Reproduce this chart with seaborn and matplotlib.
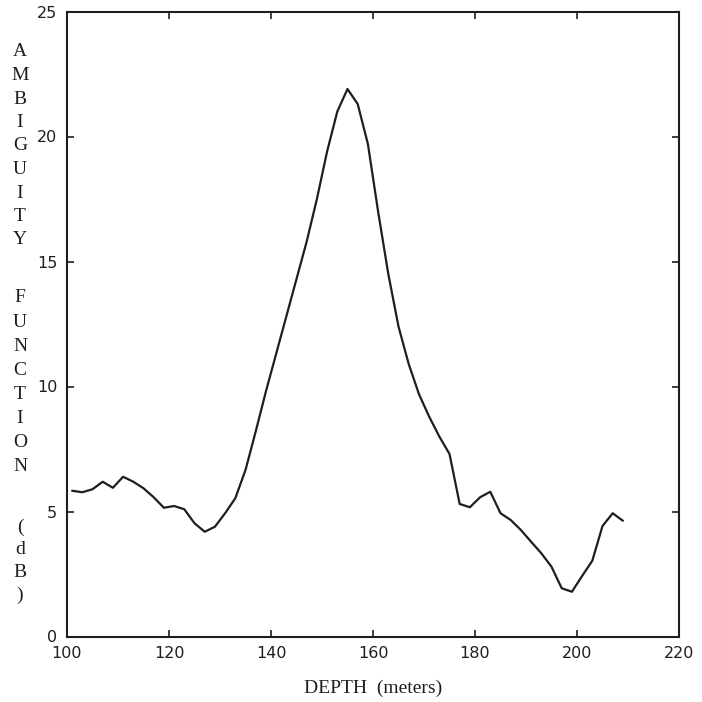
import matplotlib
matplotlib.use("Agg")
import matplotlib.pyplot as plt
import seaborn as sns
import pandas as pd

depth = list(range(101, 210, 2))
ambiguity_db = [
    5.83, 5.77, 5.89, 6.19, 5.95, 6.39, 6.19, 5.93, 5.57, 5.15,
    5.22, 5.09, 4.53, 4.19, 4.39, 4.93, 5.53, 6.66, 8.2, 9.8,
    11.3, 12.8, 14.3, 15.8, 17.5, 19.4, 21.0, 21.9, 21.3, 19.7,
    17.0, 14.5, 12.4, 10.9, 9.7, 8.8, 8.0, 7.3, 5.3, 5.17,
    5.57, 5.79, 4.93, 4.66, 4.26, 3.79, 3.33, 2.79, 1.93, 1.79,
    2.42, 3.03, 4.42, 4.93, 4.63,
]
x_ticks = [100, 120, 140, 160, 180, 200, 220]
y_ticks = [0, 5, 10, 15, 20, 25]
x_label = "DEPTH  (meters)"
y_label_words = ["AMBIGUITY", "FUNCTION", "(dB)"]

df = pd.DataFrame({"depth": depth, "af": ambiguity_db})

sns.set_style("ticks")
plt.rcParams["font.family"] = ["DejaVu Sans"]

fig = plt.figure(figsize=(7.02, 7.02), dpi=100)
ax = fig.add_axes([67 / 702, 1 - 636.5 / 702, (679 - 67) / 702, (636.5 - 11.5) / 702])

sns.lineplot(data=df, x="depth", y="af", ax=ax, color="#1e1e1e", linewidth=1.6)

ax.set_xlim(100, 220)
ax.set_ylim(0, 25)
ax.set_xticks(x_ticks)
ax.set_yticks(y_ticks)
ax.set_xticklabels([str(t) for t in x_ticks])
ax.set_yticklabels([str(t) for t in y_ticks])
ax.tick_params(direction="in", length=5, width=1.2, top=True, right=True,
               labelsize=11.5, colors="#1e1e1e", pad=7)
for s in ax.spines.values():
    s.set_visible(True)
    s.set_linewidth(1.5)
    s.set_color("#1e1e1e")

ax.set_xlabel("")
ax.set_ylabel("")
fig.text(373 / 702, 1 - 688 / 702, x_label, ha="center", va="center",
         family="Liberation Serif", fontsize=14, color="#1e1e1e")

# vertically stacked y-axis label, one letter per line
word_layout = [(52, 23.5), (298, 24.1), (527, 22.8)]
for word, (y0, step) in zip(y_label_words, word_layout):
    for i, ch in enumerate(word):
        fig.text(20 / 702, 1 - (y0 + i * step) / 702, ch, ha="center", va="center",
                 family="Liberation Serif", fontsize=14, color="#1e1e1e")

fig.savefig("out.png", dpi=100)
